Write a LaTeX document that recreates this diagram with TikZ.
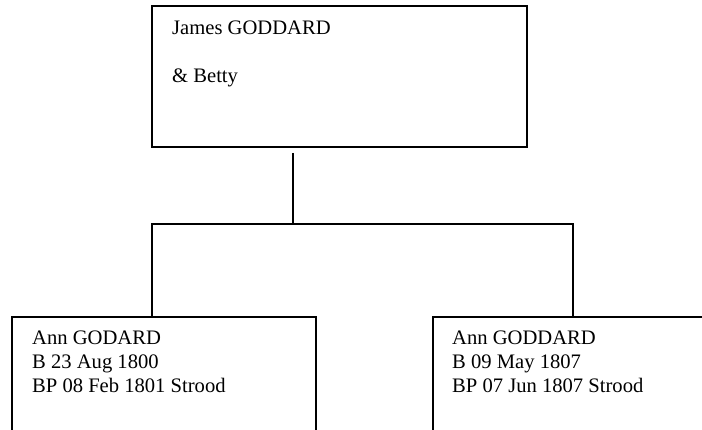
\documentclass[tikz,border=0pt]{standalone}
\usepackage{fontspec}
\setmainfont{Liberation Serif}
\begin{document}
\begin{tikzpicture}[x=1pt,y=-1pt,
  box/.style={draw=black,line width=1.6pt,rectangle,inner sep=0pt},
  txt/.style={anchor=base west,inner sep=0pt,font=\fontsize{20.6}{23.5}\selectfont},
  conn/.style={draw=black,line width=1.6pt}]
\useasboundingbox (0,0) rectangle (702,430);
\clip (0,0) rectangle (702,430);
% boxes
\node[box,minimum width=375pt,minimum height=141pt] (parent) at (339.5,76.5) {};
\node[box,minimum width=304pt,minimum height=160pt] (child1) at (164,397) {};
\node[box,minimum width=300pt,minimum height=160pt] (child2) at (583,397) {};
% texts
\node[txt] (t1) at (172,35) {James GODDARD};
\node[txt] (t2) at (172,83) {\& Betty};
\node[txt] (c1a) at (32,345) {Ann GODARD};
\node[txt] (c1b) at (32,369) {B 23 Aug 1800};
\node[txt] (c1c) at (32,393) {BP 08 Feb 1801 Strood};
\node[txt] (c2a) at (452,345) {Ann GODDARD};
\node[txt] (c2b) at (452,369) {B 09 May 1807};
\node[txt] (c2c) at (452,393) {BP 07 Jun 1807 Strood};
% connectors
\coordinate (pc) at (293,153);
\coordinate (jn) at (293,224);
\coordinate (hl) at (152,224);
\coordinate (hr) at (573,224);
\coordinate (d1) at (152,317);
\coordinate (d2) at (573,317);
\draw[conn] (pc) -- (jn);
\draw[conn,line join=miter] (d1) -- (hl) -- (hr) -- (d2);
\end{tikzpicture}
\end{document}
